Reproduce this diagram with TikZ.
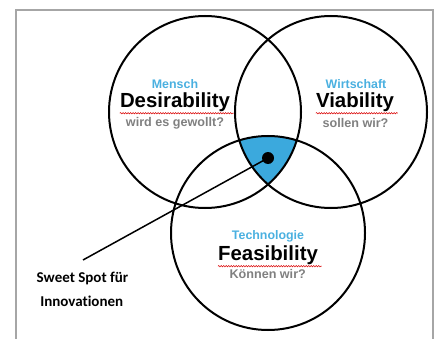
\documentclass[tikz,border=0pt]{standalone}
\usepackage{fontspec}
\setmainfont{Liberation Sans}
\newfontfamily\calib[Ligatures={NoCommon}]{Carlito}
\usetikzlibrary{decorations.pathmorphing}
\definecolor{spotblue}{HTML}{3BA9DD}
\definecolor{labblue}{HTML}{4AB0E0}
\definecolor{subgray}{HTML}{808080}
\definecolor{framegray}{HTML}{A6A6A6}
\tikzset{
  ring/.style={draw=black, line width=2pt},
  cat/.style={font=\fontsize{12.4}{14}\selectfont\bfseries, text=labblue, inner sep=0pt},
  big/.style={font=\fontsize{20.4}{24}\selectfont\bfseries, text=black, inner sep=0pt},
  sub/.style={font=\fontsize{12.6}{14}\selectfont\bfseries, text=subgray, inner sep=0pt},
  note/.style={font=\calib\fontsize{15}{18}\selectfont\bfseries, text=black, inner sep=0pt},
  squiggle/.style={draw=red!85!black, line width=0.5pt, decorate, decoration={snake, amplitude=0.7pt, segment length=2.5pt}},
}
\begin{document}
\begin{tikzpicture}[x=1pt, y=-1pt]
\useasboundingbox (0,0) rectangle (438,339);
% frame
\draw[framegray, line width=1.4pt] (16,345) -- (16,10) -- (433,10) -- (433,345);
% sweet spot fill
\begin{scope}
  \clip (205,112) circle (96);
  \clip (331,112) circle (96);
  \fill[spotblue] (268,233) circle (97);
\end{scope}
% circles
\node[ring, circle, minimum size=192pt, inner sep=0pt] (cd) at (205,112) {};
\node[ring, circle, minimum size=192pt, inner sep=0pt] (cv) at (331,112) {};
\node[ring, circle, minimum size=194pt, inner sep=0pt] (cf) at (268,233) {};
% texts
\node[cat] (mensch) at (175,84) {Mensch};
\node[big] (des) at (175,102) {Desirability};
\node[sub] (wird) at (175,123) {wird es gewollt?};
\node[cat] (wirt) at (356,84) {Wirtschaft};
\node[big] (via) at (355,102) {Viability};
\node[sub] (sollen) at (355.5,123) {sollen wir?};
\node[cat] (tech) at (268,236) {Technologie};
\node[big] (fea) at (268,255) {Feasibility};
\node[sub] (koennen) at (267.7,274) {Können wir?};
% squiggles
\draw[squiggle] (des.south west) ++(0,1.5) -- ++(114,0);
\draw[squiggle] (via.south west) ++(0,1.5) -- ++(82,0);
\draw[squiggle] (fea.south west) ++(0,1.5) -- ++(104,0);
% sweet spot pointer
\node[circle, fill=black, minimum size=12pt, inner sep=0pt] (dot) at (268,158) {};
\coordinate (tail) at (83,260);
\draw[black, line width=1.5pt] (tail) -- (dot.center);
\node[note] (sweet) at (82.5,278) {Sweet Spot für};
\node[note] (innov) at (81.7,301) {Innovationen};
\end{tikzpicture}
\end{document}
